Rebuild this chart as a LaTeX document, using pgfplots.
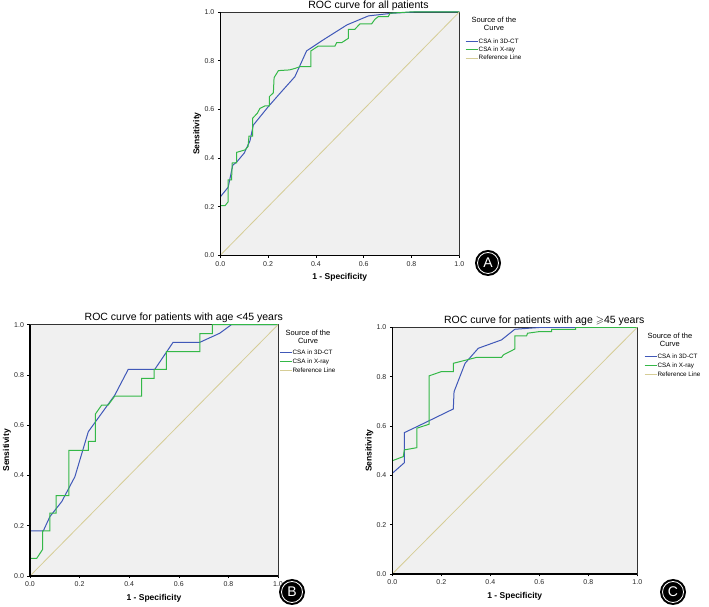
\documentclass[border=0pt]{standalone}
\usepackage{fontspec}
\setmainfont{Liberation Sans}
\usepackage{amssymb}
\usepackage{pgfplots}
\pgfplotsset{compat=1.18}
\definecolor{ctblue}{RGB}{64,88,184}
\definecolor{xgreen}{RGB}{52,184,72}
\definecolor{refline}{RGB}{214,205,150}
\definecolor{bgc}{RGB}{240,240,240}
\pgfplotsset{rocstyle/.style={
  scale only axis, xmin=0, xmax=1, ymin=0, ymax=1,
  xtick={0,0.2,0.4,0.6,0.8,1}, ytick={0,0.2,0.4,0.6,0.8,1},
  /pgf/number format/.cd, fixed, fixed zerofill, precision=1, assume math mode=true, /pgfplots/.cd,
  ticklabel style={font=\fontsize{7}{8}\selectfont, text=black!85},
  tick align=outside, xtick pos=bottom, ytick pos=left, major tick length=2.5pt,
  tick style={black, line width=0.6pt},
  axis background/.style={fill=bgc},
  axis line style={draw=black!80, line width=0.5pt},
  clip mode=individual,
  title style={font=\fontsize{10.5}{12}\selectfont, at={(axis description cs:0.62,1)}, anchor=south, yshift=-8pt},
  xlabel={1 - Specificity}, ylabel={Sensitivity},
  every axis x label/.style={at={(axis description cs:0.5,0)}, yshift=-22pt, anchor=center, font=\bfseries\fontsize{8.5}{10}\selectfont},
  every axis y label/.style={at={(axis description cs:0,0.5)}, xshift=-23pt, rotate=90, anchor=center, font=\bfseries\fontsize{8.5}{10}\selectfont},
  legend style={anchor=north west, draw=none, fill=none, font=\fontsize{6.3}{7}\selectfont,
    inner sep=0pt, nodes={inner sep=0.5pt, text height=5pt, text depth=1.5pt}},
  legend cell align=left,
  legend image code/.code={\draw[#1] (0pt,0pt) -- (12pt,0pt);},
  after end axis/.code={\draw[black, line width=1.1pt] (rel axis cs:0,1) -- (rel axis cs:0,0) -- (rel axis cs:1,0);},
}}
\tikzset{blueline/.style={ctblue, line width=1pt}, greenline/.style={xgreen, line width=1pt}, refl/.style={refline, line width=0.8pt}}
\newcommand{\panellabel}[2]{%
  \node[circle, fill=black, minimum size=26pt, inner sep=0pt] at #1 {};
  \node[circle, draw=white, line width=0.8pt, minimum size=21pt, inner sep=0pt, text=white, font=\fontsize{14}{14}\selectfont] at #1 {#2};}
\begin{document}
\begin{tikzpicture}
\useasboundingbox (0,0) rectangle (709pt,607pt);
% Panel A
\begin{axis}[rocstyle, at={(220.3pt,351.7pt)}, anchor=south west, width=239pt, height=243.3pt,
  title={ROC curve for all patients},
  legend style={at={(1.024,0.893)}, row sep=0.5pt}]
\addplot[blueline] coordinates {(0,0)(0,0.24)(0.033,0.28)(0.052,0.37)(0.07,0.385)(0.10,0.42)(0.124,0.47)(0.138,0.535)(0.20,0.61)(0.25,0.666)(0.312,0.734)(0.361,0.84)(0.43,0.885)(0.53,0.947)(0.62,0.984)(0.72,0.995)(0.81,1)(1,1)};
\addlegendentry{CSA in 3D-CT}
\addplot[greenline] coordinates {(0,0)(0,0.204)(0.02,0.204)(0.033,0.22)(0.033,0.31)(0.047,0.31)(0.05,0.38)(0.068,0.38)(0.068,0.423)(0.103,0.433)(0.116,0.447)(0.12,0.49)(0.135,0.49)(0.135,0.563)(0.155,0.584)(0.166,0.604)(0.187,0.614)(0.205,0.614)(0.205,0.652)(0.222,0.668)(0.225,0.73)(0.243,0.759)(0.29,0.762)(0.312,0.768)(0.333,0.775)(0.379,0.775)(0.379,0.84)(0.41,0.86)(0.48,0.86)(0.487,0.874)(0.508,0.874)(0.536,0.892)(0.536,0.929)(0.563,0.929)(0.584,0.951)(0.633,0.951)(0.647,0.97)(0.661,0.981)(0.703,0.981)(0.71,0.995)(0.793,1)(1,1)};
\addlegendentry{CSA in X-ray}
\addplot[refl] coordinates {(0,0)(1,1)};
\addlegendentry{Reference Line}
\node[align=center, font=\fontsize{7.5}{8}\selectfont] at (rel axis cs:1.145,0.951) {Source of the\\Curve};
\end{axis}
% Panel B
\begin{axis}[rocstyle, at={(30pt,31pt)}, anchor=south west, width=248pt, height=251.3pt,
  title={ROC curve for patients with age <45 years},
  legend style={at={(1.004,0.905)}, row sep=1.5pt}]
\addplot[blueline] coordinates {(0,0)(0,0.18)(0.054,0.18)(0.08,0.236)(0.128,0.296)(0.181,0.395)(0.235,0.574)(0.342,0.72)(0.396,0.822)(0.503,0.822)(0.577,0.93)(0.685,0.93)(0.765,0.966)(0.812,1)(1,1)};
\addlegendentry{CSA in 3D-CT}
\addplot[greenline] coordinates {(0,0)(0,0.07)(0.027,0.07)(0.051,0.106)(0.051,0.18)(0.08,0.18)(0.08,0.25)(0.105,0.25)(0.105,0.32)(0.157,0.32)(0.157,0.5)(0.235,0.5)(0.235,0.536)(0.264,0.536)(0.264,0.645)(0.289,0.68)(0.315,0.68)(0.342,0.716)(0.45,0.716)(0.45,0.786)(0.5,0.786)(0.5,0.822)(0.55,0.822)(0.55,0.893)(0.685,0.893)(0.685,0.964)(0.735,0.964)(0.735,1)(1,1)};
\addlegendentry{CSA in X-ray}
\addplot[refl] coordinates {(0,0)(1,1)};
\addlegendentry{Reference Line}
\node[align=center, font=\fontsize{7.5}{8}\selectfont] at (rel axis cs:1.121,0.951) {Source of the\\Curve};
\end{axis}
% Panel C
\begin{axis}[rocstyle, at={(392.3pt,33pt)}, anchor=south west, width=245pt, height=246.7pt,
  title={ROC curve for patients with age $\geqslant$45 years},
  legend style={at={(1.027,0.898)}, row sep=1.5pt}]
\addplot[blueline] coordinates {(0,0)(0,0.408)(0.049,0.451)(0.049,0.573)(0.1,0.597)(0.249,0.669)(0.252,0.739)(0.297,0.854)(0.351,0.915)(0.446,0.949)(0.5,0.992)(0.61,1)(1,1)};
\addlegendentry{CSA in 3D-CT}
\addplot[greenline] coordinates {(0,0)(0,0.459)(0.045,0.476)(0.049,0.503)(0.1,0.512)(0.1,0.591)(0.15,0.607)(0.15,0.803)(0.199,0.82)(0.249,0.82)(0.249,0.854)(0.344,0.878)(0.446,0.878)(0.453,0.888)(0.5,0.912)(0.5,0.965)(0.548,0.965)(0.552,0.976)(0.596,0.982)(0.65,0.982)(0.65,0.992)(0.748,0.992)(0.748,1)(1,1)};
\addlegendentry{CSA in X-ray}
\addplot[refl] coordinates {(0,0)(1,1)};
\addlegendentry{Reference Line}
\node[align=center, font=\fontsize{7.5}{8}\selectfont] at (rel axis cs:1.133,0.949) {Source of the\\Curve};
\end{axis}
\panellabel{(488pt,344pt)}{A}
\panellabel{(292pt,15pt)}{B}
\panellabel{(673pt,15pt)}{C}
\end{tikzpicture}
\end{document}
